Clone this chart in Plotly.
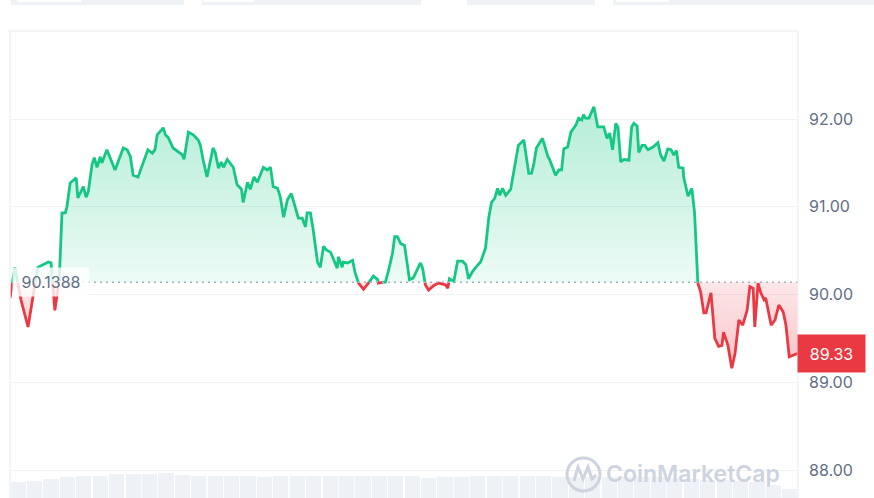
import pandas as pd
import plotly.graph_objects as go

# ── Data ─────────────────────────────────────────────────────────────────────
minutes = [
    0, 9, 20, 33, 42, 51, 60, 70, 75, 82, 90, 95, 101, 104, 110, 121, 124, 134, 139, 143,
    150, 154, 159, 165, 168, 177, 192, 207, 214, 220, 225, 234, 242, 252, 260, 265, 269, 280,
    284, 289, 298, 315, 318, 326, 335, 344, 348, 353, 360, 371, 375, 381, 386, 390, 397, 408,
    415, 423, 426, 434, 439, 446, 452, 463, 470, 476, 481, 489, 494, 500, 507, 514, 521, 527,
    534, 540, 543, 549, 554, 562, 567, 573, 578, 586, 598, 600, 607, 609, 617, 626, 631, 637,
    646, 655, 664, 672, 673, 681, 686, 692, 699, 703, 708, 714, 721, 730, 737, 750, 754, 759,
    765, 774, 783, 796, 800, 803, 811, 818, 827, 833, 838, 845, 851, 860, 869, 875, 880, 886,
    891, 895, 900, 906, 915, 920, 929, 939, 948, 953, 957, 962, 973, 983, 986, 997, 1003, 1008,
    1012, 1019, 1025, 1034, 1039, 1045, 1048, 1052, 1058, 1067, 1074, 1085, 1091, 1096, 1101,
    1107, 1111, 1116, 1122, 1131, 1136, 1140, 1146, 1149, 1155, 1160, 1166, 1175, 1184, 1189,
    1195, 1202, 1208, 1213, 1218, 1222, 1230, 1231, 1239, 1246, 1251, 1257, 1262, 1268, 1272,
    1281, 1288, 1295, 1301, 1304, 1312, 1319, 1325, 1332, 1339, 1347, 1352, 1358, 1361, 1367,
    1372, 1378, 1381, 1391, 1398, 1405, 1413, 1418, 1424, 1431, 1440,
]
prices = [
    89.96, 90.31, 89.94, 89.63, 89.99, 90.31, 90.34, 90.37, 90.36, 89.82, 90.17, 90.93, 90.93,
    91.00, 91.27, 91.33, 91.10, 91.23, 91.11, 91.17, 91.48, 91.56, 91.45, 91.57, 91.50, 91.65,
    91.42, 91.67, 91.65, 91.57, 91.36, 91.34, 91.48, 91.65, 91.61, 91.65, 91.82, 91.90, 91.82,
    91.79, 91.67, 91.59, 91.54, 91.85, 91.82, 91.76, 91.70, 91.53, 91.34, 91.67, 91.62, 91.44,
    91.51, 91.45, 91.54, 91.45, 91.25, 91.20, 91.05, 91.28, 91.20, 91.34, 91.28, 91.45, 91.42,
    91.45, 91.23, 91.21, 91.11, 90.88, 91.08, 91.15, 91.00, 90.87, 90.87, 90.77, 90.93, 90.93,
    90.74, 90.37, 90.31, 90.55, 90.51, 90.48, 90.30, 90.43, 90.31, 90.37, 90.36, 90.39, 90.24,
    90.13, 90.06, 90.13, 90.21, 90.17, 90.13, 90.14, 90.14, 90.28, 90.47, 90.66, 90.66, 90.58,
    90.56, 90.17, 90.19, 90.36, 90.30, 90.11, 90.05, 90.10, 90.13, 90.11, 90.07, 90.18, 90.15,
    90.38, 90.38, 90.34, 90.18, 90.26, 90.31, 90.37, 90.53, 90.88, 91.05, 91.10, 91.21, 91.13,
    91.21, 91.13, 91.20, 91.38, 91.70, 91.76, 91.38, 91.38, 91.48, 91.67, 91.78, 91.57, 91.54,
    91.36, 91.42, 91.42, 91.66, 91.68, 91.85, 91.93, 92.01, 91.99, 92.05, 92.01, 92.01, 92.14,
    91.91, 91.91, 91.78, 91.84, 91.65, 91.95, 91.91, 91.51, 91.54, 91.53, 91.91, 91.95, 91.92,
    91.62, 91.70, 91.70, 91.65, 91.68, 91.73, 91.59, 91.52, 91.66, 91.65, 91.59, 91.64, 91.45,
    91.44, 91.34, 91.12, 91.21, 90.93, 90.13, 90.03, 89.79, 89.79, 90.02, 89.50, 89.41, 89.42,
    89.57, 89.42, 89.16, 89.33, 89.71, 89.65, 89.82, 90.09, 90.07, 89.63, 90.13, 90.02, 89.94,
    89.96, 89.65, 89.71, 89.88, 89.80, 89.65, 89.29, 89.31, 89.33,
]
# volume per 30-minute bucket (millions)
volume = [
    1.6, 1.7, 1.9, 2.1, 2.2, 2.2, 2.4, 2.4, 2.4, 2.5, 2.3, 2.2, 2.2, 2.2, 2.2, 2.1,
    2.2, 2.2, 2.2, 2.2, 2.2, 2.2, 2.2, 2.2, 2.2, 2.0, 2.1, 2.1, 2.2, 2.2, 2.2, 2.2,
    2.2, 2.1, 2.1, 2.1, 2.1, 2.1, 2.1, 2.1, 2.0, 1.9, 1.8, 1.8, 1.7, 1.6, 1.3, 0.9,
]
open_price = 90.1388
last_price = prices[-1]
yticks = [88, 89, 90, 91, 92]

GREEN = "#16c784"
RED = "#ea3943"
GREY = "#616e85"
FONT = "Inter, Roboto, sans-serif"

start = pd.Timestamp("2024-05-14 00:00")

# split the line where it crosses the opening price
pts_t, pts_v = [], []
for i, (m, v) in enumerate(zip(minutes, prices)):
    if i > 0:
        m0, v0 = minutes[i - 1], prices[i - 1]
        if (v0 - open_price) * (v - open_price) < 0:
            pts_t.append(m0 + (open_price - v0) / (v - v0) * (m - m0))
            pts_v.append(open_price)
    pts_t.append(m)
    pts_v.append(v)

t = [start + pd.Timedelta(minutes=m) for m in pts_t]
above = [max(v, open_price) for v in pts_v]
below = [min(v, open_price) for v in pts_v]
green_line = [v if v >= open_price - 1e-9 else None for v in pts_v]
red_line = [v if v <= open_price + 1e-9 else None for v in pts_v]
base = [open_price] * len(t)

vol_t = [start + pd.Timedelta(minutes=15 + 30 * i) for i in range(len(volume))]

# ── Figure ───────────────────────────────────────────────────────────────────
fig = go.Figure()

fig.add_trace(go.Bar(
    x=vol_t, y=volume, yaxis="y2", marker_color="#eef1f6", marker_line_width=0,
    width=30 * 60 * 1000 * 0.92, hoverinfo="skip",
))

fig.add_trace(go.Scatter(x=t, y=base, mode="lines", line_width=0, hoverinfo="skip"))
fig.add_trace(go.Scatter(
    x=t, y=above, mode="lines", line_width=0, fill="tonexty", hoverinfo="skip",
    fillgradient=dict(type="vertical", start=open_price, stop=92.15,
                      colorscale=[[0, "rgba(22,199,132,0.08)"], [1, "rgba(22,199,132,0.32)"]]),
))
fig.add_trace(go.Scatter(x=t, y=base, mode="lines", line_width=0, hoverinfo="skip"))
fig.add_trace(go.Scatter(
    x=t, y=below, mode="lines", line_width=0, fill="tonexty", hoverinfo="skip",
    fillgradient=dict(type="vertical", start=89.15, stop=open_price,
                      colorscale=[[0, "rgba(234,57,67,0.30)"], [1, "rgba(234,57,67,0.12)"]]),
))

fig.add_trace(go.Scatter(x=t, y=green_line, mode="lines", connectgaps=False,
                         line=dict(color=GREEN, width=2.8)))
fig.add_trace(go.Scatter(x=t, y=red_line, mode="lines", connectgaps=False,
                         line=dict(color=RED, width=2.8)))


def px(x):
    return (x - 10) / 788


def py(y):
    return (498 - y) / 467


shapes = [
    # baseline (open price)
    dict(type="line", xref="paper", yref="y", x0=0, x1=1, y0=open_price, y1=open_price,
         line=dict(color="#a6b0c3", width=1.5, dash="2px,4px")),
    # container borders
    dict(type="line", xref="paper", yref="paper", x0=px(8), x1=px(798), y0=py(31), y1=py(31),
         line=dict(color="#eff2f5", width=1.5)),
    dict(type="line", xref="paper", yref="paper", x0=px(10), x1=px(10), y0=py(31), y1=0,
         line=dict(color="#eff2f5", width=1.5)),
    dict(type="line", xref="paper", yref="paper", x0=px(798), x1=px(798), y0=py(31), y1=0,
         line=dict(color="#eff2f5", width=1.5)),
    # watermark logo
    dict(type="circle", xref="paper", yref="paper", x0=px(567), x1=px(600), y0=py(491), y1=py(458),
         line=dict(color="#cdd4e0", width=3)),
    dict(type="path", xref="paper", yref="paper",
         path="M {} {} L {} {} L {} {} L {} {} L {} {} L {} {}".format(
             px(574), py(481), px(578), py(467), px(583), py(479),
             px(588), py(467), px(592), py(479), px(596), py(475)),
         line=dict(color="#cdd4e0", width=3)),
]
# partial tab buttons cut off at the top
for x0, x1, w0, w1 in [(11, 184, 17, 81), (202, 421, 203, 254), (467, 595, None, None), (613, 874, 616, 669)]:
    shapes.append(dict(type="rect", xref="paper", yref="paper", x0=px(x0), x1=px(x1),
                       y0=py(5), y1=py(-10), fillcolor="#eff2f5", line_width=0, layer="below"))
    if w0 is not None:
        shapes.append(dict(type="rect", xref="paper", yref="paper", x0=px(w0), x1=px(w1),
                           y0=py(2), y1=py(-10), fillcolor="#ffffff", line_width=0))

annotations = [
    dict(xref="paper", yref="y", x=px(12), y=open_price, xanchor="left", yanchor="middle",
         text="90.1388", showarrow=False, font=dict(family=FONT, size=16, color=GREY),
         bgcolor="rgba(255,255,255,0.8)", width=76, height=28, borderpad=0),
    dict(xref="paper", yref="y", x=px(797), y=last_price, xanchor="left", yanchor="middle",
         text=f"{last_price:.2f}", showarrow=False, font=dict(family=FONT, size=16, color="white"),
         bgcolor=RED, width=67, height=37, borderpad=0),
    dict(xref="paper", yref="paper", x=px(693), y=py(474), xanchor="center", yanchor="middle",
         text="CoinMarketCap", showarrow=False,
         font=dict(family=FONT, size=23, color="#cdd4e0", weight=600)),
]

fig.update_layout(
    width=874, height=498,
    margin=dict(l=10, r=76, t=31, b=0),
    paper_bgcolor="white", plot_bgcolor="white",
    showlegend=False, bargap=0,
    font=dict(family=FONT, size=16, color=GREY),
    xaxis=dict(range=[t[0], t[-1]], visible=False, showgrid=False),
    yaxis=dict(
        side="right", range=[87.681, 93.003],
        tickvals=yticks, ticktext=[f"{v:.2f}" for v in yticks],
        gridcolor="#eff2f5", gridwidth=1, zeroline=False, showline=False,
        ticks="", ticklabelstandoff=10, tickfont=dict(family=FONT, size=16, color=GREY),
    ),
    yaxis2=dict(overlaying="y", range=[0, 46.7], visible=False),
    shapes=shapes,
    annotations=annotations,
)

fig.write_html("out.html", config={"displayModeBar": False},
               post_script="document.body.style.margin='0';")
